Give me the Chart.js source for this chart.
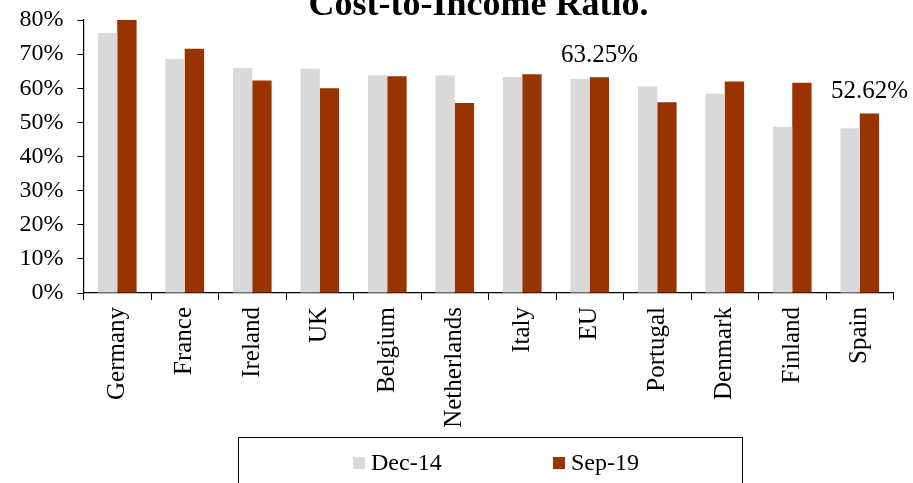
<!DOCTYPE html>
<html>
<head>
<meta charset="utf-8">
<script src="https://cdn.jsdelivr.net/npm/chart.js@4"></script>
<style>
  body { margin: 0; background: #fff; }
  #wrap { position: relative; width: 913px; height: 483px; overflow: hidden; }
  #legend {
    position: absolute; left: 238px; top: 437px; width: 505px; height: 70px;
    border: 1.5px solid #000; box-sizing: border-box;
    font-family: "Liberation Serif", serif; font-size: 24px; color: #000;
  }
  .item { position: absolute; top: 11px; display: flex; align-items: center; line-height: 27px; }
  .swatch { width: 12px; height: 12px; margin-right: 6px; }
</style>
</head>
<body>
<div id="wrap">
  <canvas id="chart" width="913" height="483"></canvas>
  <div id="legend"></div>
</div>
<script>
// Chart data (percent)
const countries = ['Germany', 'France', 'Ireland', 'UK', 'Belgium', 'Netherlands',
  'Italy', 'EU', 'Portugal', 'Denmark', 'Finland', 'Spain'];
const dec14 = [76.2, 68.6, 65.9, 65.7, 63.8, 63.7, 63.3, 62.8, 60.5, 58.4, 48.7, 48.3];
const sep19 = [80.0, 71.6, 62.3, 60.0, 63.5, 55.7, 64.1, 63.25, 55.9, 62.0, 61.6, 52.62];
const seriesNames = ['Dec-14', 'Sep-19'];
const seriesColors = ['#d9d9d9', '#993300'];
const yTickValues = [0, 10, 20, 30, 40, 50, 60, 70, 80];
const labelledCountries = ['EU', 'Spain'];
const chartTitle = 'Cost-to-Income Ratio.';

const serif = '"Liberation Serif", "Times New Roman", serif';

// title sits partly above the canvas edge, like the original
const titlePlugin = {
  id: 'topTitle',
  afterDraw(chart) {
    const ctx = chart.ctx;
    const a = chart.chartArea;
    ctx.save();
    ctx.font = 'bold 36px ' + serif;
    ctx.fillStyle = '#000';
    ctx.textAlign = 'center';
    ctx.textBaseline = 'alphabetic';
    ctx.fillText(chartTitle, (a.left + a.right) / 2 - 10, 15);
    ctx.restore();
  }
};

// value labels above selected Sep-19 bars
const barLabels = {
  id: 'barLabels',
  afterDatasetsDraw(chart) {
    const ctx = chart.ctx;
    const meta = chart.getDatasetMeta(1);
    ctx.save();
    ctx.font = '25px ' + serif;
    ctx.fillStyle = '#000';
    ctx.textAlign = 'center';
    ctx.textBaseline = 'alphabetic';
    countries.forEach((c, i) => {
      if (!labelledCountries.includes(c)) return;
      const bar = meta.data[i];
      ctx.fillText(sep19[i].toFixed(2) + '%', bar.x, bar.y - 15);
    });
    ctx.restore();
  }
};

new Chart(document.getElementById('chart'), {
  type: 'bar',
  data: {
    labels: countries,
    datasets: [
      { label: seriesNames[0], data: dec14, backgroundColor: seriesColors[0] },
      { label: seriesNames[1], data: sep19, backgroundColor: seriesColors[1] }
    ]
  },
  options: {
    responsive: false,
    animation: false,
    devicePixelRatio: 1,
    datasets: { bar: { categoryPercentage: 0.573, barPercentage: 1.0 } },
    layout: { padding: { left: 0, right: 19.5, top: 20, bottom: 0 } },
    plugins: {
      legend: { display: false },
      tooltip: { enabled: false },
      title: { display: false }
    },
    scales: {
      x: {
        offset: true,
        grid: { offset: true, drawOnChartArea: false, drawTicks: true, tickLength: 7, color: '#000' },
        border: { color: '#000', width: 1.2 },
        ticks: { color: '#000', font: { family: serif, size: 25 }, maxRotation: 90, minRotation: 90, padding: 7 },
        afterFit(scale) { scale.height = 190; }
      },
      y: {
        min: 0,
        max: 80,
        afterBuildTicks(scale) { scale.ticks = yTickValues.map(v => ({ value: v })); },
        grid: { drawOnChartArea: false, drawTicks: true, tickLength: 6, color: '#000' },
        border: { color: '#000', width: 1.2 },
        ticks: { color: '#000', font: { family: serif, size: 24 }, padding: 14, callback: v => v + '%' },
        afterFit(scale) {
          scale.width = 83.5;
          scale.paddingTop = 0;
          scale.paddingBottom = 0;
        }
      }
    }
  },
  plugins: [barLabels, titlePlugin]
});

// legend in a framed box under the chart
const legend = document.getElementById('legend');
seriesNames.forEach((name, i) => {
  const item = document.createElement('div');
  item.className = 'item';
  item.style.left = (114 + i * 200) + 'px';
  const sw = document.createElement('span');
  sw.className = 'swatch';
  sw.style.background = seriesColors[i];
  const txt = document.createElement('span');
  txt.textContent = name;
  item.appendChild(sw);
  item.appendChild(txt);
  legend.appendChild(item);
});
</script>
</body>
</html>
